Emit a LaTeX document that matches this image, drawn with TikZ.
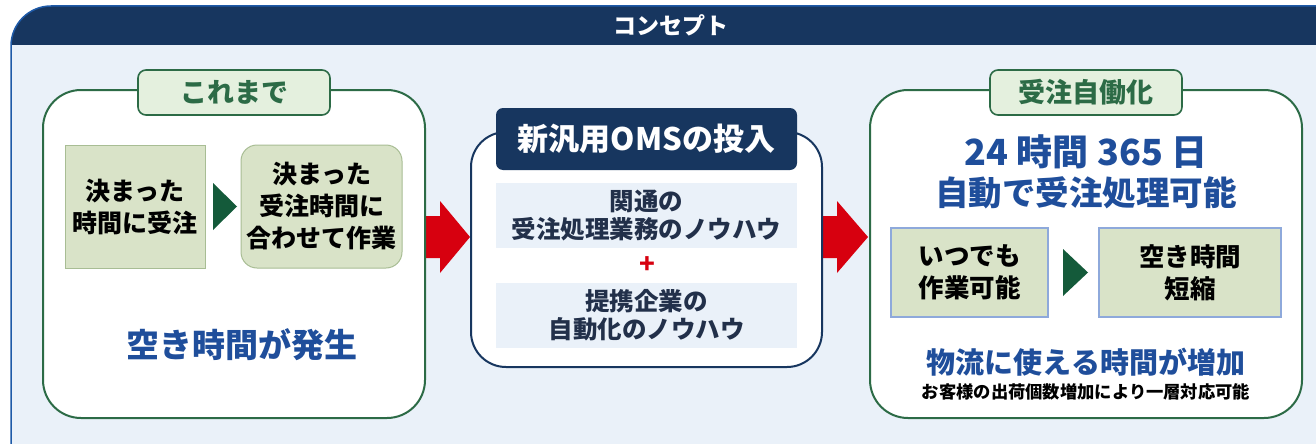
\documentclass[tikz,border=0pt]{standalone}
\usepackage{fontspec}
\setmainfont{Noto Sans CJK JP}
\usetikzlibrary{calc}
\definecolor{navy}{HTML}{17365F}
\definecolor{bgblue}{HTML}{EAF1F9}
\definecolor{edgeblue}{HTML}{1E5AA8}
\definecolor{grn}{HTML}{2C6B46}
\definecolor{tabfill}{HTML}{E4F0DE}
\definecolor{olive}{HTML}{D9E3C8}
\definecolor{oliveedge}{HTML}{A8BD94}
\definecolor{txtblue}{HTML}{1F4E9B}
\definecolor{redarr}{HTML}{D7000F}
\definecolor{darkgrn}{HTML}{145A3A}
\definecolor{lightedge}{HTML}{8EA9DB}
\definecolor{bandtxt}{HTML}{22304A}
\tikzset{
  fs/.style 2 args={font=\bfseries\fontsize{#1}{#2}\selectfont},
  bigbox/.style={draw=grn, line width=2pt, fill=white, rounded corners=38pt, inner sep=0pt},
  tabbox/.style={draw=grn, line width=1.6pt, fill=tabfill, rounded corners=8pt, inner sep=0pt, text=grn, fs={27}{30}},
  olivebox/.style={draw=oliveedge, line width=1pt, fill=olive, inner sep=0pt, align=center, fs={25}{32}},
  bluebox/.style={draw=lightedge, line width=1.2pt, fill=olive, inner sep=0pt, align=center, fs={25.5}{32}},
  band/.style={fill=bgblue, inner sep=0pt, align=center, text=bandtxt, fs={24.5}{28}, minimum width=301pt, minimum height=65pt},
  bluetxt/.style={text=txtblue, align=center, inner sep=0pt},
}
\begin{document}
\begin{tikzpicture}[x=1pt,y=-1pt]
\useasboundingbox (0,0) rectangle (1316,444);
% outer panel
\fill[bgblue] (11,444) -- (11,46) arc[start angle=180,end angle=270,radius=40] -- (1316,6) -- (1316,444) -- cycle;
\fill[navy] (11,45) -- (11,46) arc[start angle=180,end angle=270,radius=40] -- (1316,6) -- (1316,45) -- cycle;
\draw[edgeblue, line width=1.5pt] (11,444) -- (11,46) arc[start angle=180,end angle=270,radius=40] -- (1316,6);
\node[text=white, fs={23}{26}, inner sep=0pt] (title) at (671,25) {コンセプト};

% red arrows
\coordinate (ra1) at (425,237);
\coordinate (ra2) at (822,237);
\fill[redarr] (ra1) ++(0,-21) -- ++(15,0) -- ++(0,-15) -- ++(30,36) -- ++(-30,36) -- ++(0,-15) -- ++(-15,0) -- cycle;
\fill[redarr] (ra2) ++(0,-21) -- ++(15,0) -- ++(0,-15) -- ++(31,36) -- ++(-31,36) -- ++(0,-15) -- ++(-15,0) -- cycle;

% left box
\node[bigbox, minimum width=382pt, minimum height=328pt] (L) at (234,254) {};
\node[tabbox, minimum width=192pt, minimum height=45pt] (Ltab) at (234,92.5) {これまで};
\node[olivebox, minimum width=140pt, minimum height=123pt] (b1) at (135,206.5) {決まった\\時間に受注};
\node[olivebox, rounded corners=16pt, minimum width=161pt, minimum height=123pt] (b2) at (321.5,206.5) {決まった\\受注時間に\\合わせて作業};
\coordinate (t1) at (225,206.5);
\fill[darkgrn] (t1) +(-12,-23.5) -- +(12,0) -- +(-12,23.5) -- cycle;
\node[bluetxt, fs={33}{36}] (Lres) at (242,345) {空き時間が発生};

% middle box
\node[draw=navy, line width=2pt, fill=white, rounded corners=35pt, minimum width=351pt, minimum height=235pt, inner sep=0pt] (M) at (646.5,249.5) {};
\node[fill=navy, rounded corners=7pt, minimum width=301pt, minimum height=62pt, inner sep=0pt, text=white, fs={31}{34}] (Mtab) at (646.5,139) {新汎用OMSの投入};
\node[band] (band1) at (646.5,215.5) {関通の\\受注処理業務のノウハウ};
\node[text=redarr, fs={26}{28}, inner sep=0pt] (plus) at (647,265) {+};
\node[band] (band2) at (646.5,315) {提携企業の\\自動化のノウハウ};

% right box
\node[bigbox, minimum width=432pt, minimum height=328pt] (R) at (1086,254) {};
\node[tabbox, minimum width=192pt, minimum height=45pt] (Rtab) at (1086,92.5) {受注自働化};
\node[bluetxt, fs={36}{40}] (Rhead1) at (1086,152) {24 時間 365 日};
\node[bluetxt, fs={33.5}{40}] (Rhead2) at (1086,193) {自動で受注処理可能};
\node[bluebox, minimum width=157pt, minimum height=89pt] (b3) at (969.5,272.5) {いつでも\\作業可能};
\node[bluebox, minimum width=182pt, minimum height=89pt] (b4) at (1190,272.5) {空き時間\\短縮};
\coordinate (t2) at (1075.5,272.5);
\fill[darkgrn] (t2) +(-12.5,-23.5) -- +(12.5,0) -- +(-12.5,23.5) -- cycle;
\node[bluetxt, fs={29}{32}] (Rres) at (1086,362) {物流に使える時間が増加};
\node[inner sep=0pt, fs={17.3}{20}] (Rnote) at (1086,392) {お客様の出荷個数増加により一層対応可能};
\end{tikzpicture}
\end{document}
